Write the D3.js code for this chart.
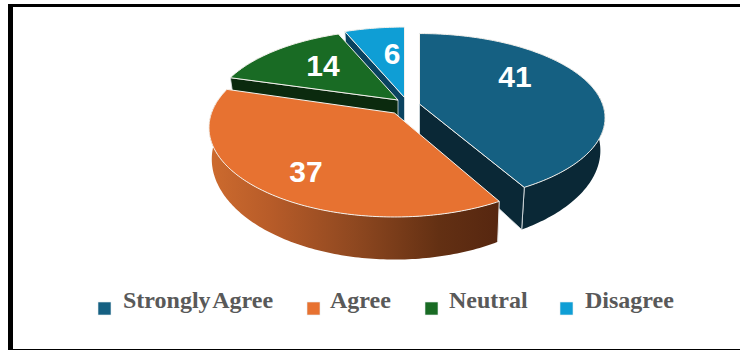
<!DOCTYPE html>
<html><head><meta charset="utf-8">
<script src="https://cdn.jsdelivr.net/npm/d3@7"></script>
<style>html,body{margin:0;padding:0;background:#fff}svg{display:block}</style>
</head><body><div id="c"></div>
<script>
const categories = ["Strongly Agree", "Agree", "Neutral", "Disagree"];
const values = [41, 37, 14, 6];
const topColors = ["#156082", "#E77231", "#196B24", "#0F9ED5"];
const wallColors = ["#0A2836", "#7a3a18", "#0B2A0E", "#0A4360"];

const W = 740, H = 351;
// layout
const centre = [402, 105];
const explode = [[17.5, -1], [-7.5, 8], [-4, -5], [2.5, -7.5]];
const sliceScaleY = [1, 1.06, 1, 1];
const sliceDepth = [1, 0.96, 1, 1];
const sliceBottomX = [0.975, 0.985, 0.975, 0.975];
const labelShift = [[95.5, -28], [-88.5, 58], [-75, -35], [-12.5, -44]];
const legendSwatch = [98, 307, 425, 560];
const legendText = [123, 330, 449, 585];
const RX = 183, RY = 82, PERSP = 0.164, DEPTH = 31;
const drawOrder = [3, 2, 0, 1];

const svg = d3.select("#c").append("svg").attr("width", W).attr("height", H);
svg.append("rect").attr("width", W).attr("height", H).attr("fill", "#fff");

// frame
svg.append("rect").attr("x", 8).attr("y", 4).attr("width", W - 8 + 20).attr("height", 346).attr("fill", "#000");
svg.append("rect").attr("x", 13).attr("y", 7).attr("width", W - 13 + 20).attr("height", 342).attr("fill", "#fff");

const defs = svg.append("defs");
const grad = defs.append("linearGradient").attr("id", "orangeWall")
  .attr("gradientUnits", "userSpaceOnUse").attr("x1", 212).attr("x2", 496).attr("y1", 0).attr("y2", 0);
[[0, "#CC6A2E"], [0.2, "#B85C29"], [0.5, "#8F4820"], [0.8, "#633013"], [1, "#572710"]]
  .forEach(s => grad.append("stop").attr("offset", s[0]).attr("stop-color", s[1]));

const pie = d3.pie().sort(null).startAngle(0).endAngle(2 * Math.PI);
const arcs = pie(values);

const xScale = d3.scaleLinear().domain([-1, 1]).range([-RX, RX]);
const yScale = d3.scaleLinear().domain([-1, 1]).range([RY, -RY]);

function apex(i) { return [centre[0] + explode[i][0], centre[1] + explode[i][1]]; }
function proj(i, t, r = 1) {
  const X = r * Math.sin(t), Y = r * Math.cos(t), w = 1 + PERSP * Y, a = apex(i);
  return [a[0] + xScale(X) / w, a[1] + sliceScaleY[i] * yScale(Y) / w];
}
function projBottom(i, t, r = 1) {
  const X = r * Math.sin(t), Y = r * Math.cos(t), w = 1 + PERSP * Y, a = apex(i);
  return [a[0] + sliceBottomX[i] * xScale(X) / w, a[1] + sliceScaleY[i] * yScale(Y) / w + sliceDepth[i] * DEPTH / (w * w)];
}
const line = d3.line();
function samples(a0, a1) {
  const n = Math.max(2, Math.ceil((a1 - a0) * 60));
  return d3.range(n + 1).map(k => a0 + (a1 - a0) * k / n);
}

drawOrder.forEach(i => {
  const d = arcs[i], g = svg.append("g");
  const fill = i === 1 ? "url(#orangeWall)" : wallColors[i];
  // outer curved wall, front half only
  const lo = Math.max(d.startAngle, Math.PI * 0.45), hi = Math.min(d.endAngle, Math.PI * 1.55);
  if (hi > lo) {
    const ts = samples(lo, hi);
    const pts = ts.map(t => proj(i, t)).concat(ts.slice().reverse().map(t => projBottom(i, t)));
    g.append("path").attr("d", line(pts) + "Z").attr("fill", fill);
    if (d.startAngle >= lo) {
      g.append("path").attr("d", line([proj(i, d.startAngle), projBottom(i, d.startAngle)]))
        .attr("stroke", "#e8e8e8").attr("stroke-width", 1).attr("fill", "none");
    }
    if (i === 0) {
      const e = d.endAngle;
      g.append("path").attr("d", line([proj(i, e), projBottom(i, e)]))
        .attr("stroke", "#e8e8e8").attr("stroke-width", 1).attr("fill", "none");
    }
  }
  // radial cut walls facing the viewer
  const cut = i === 1 ? null : (i === 0 ? d.endAngle : d.startAngle);
  if (cut !== null) {
    const a = apex(i), b = projBottom(i, cut, 0);
    g.append("path").attr("d", line([a, proj(i, cut), projBottom(i, cut), b]) + "Z")
      .attr("fill", wallColors[i]).attr("stroke", "#dfe6e8").attr("stroke-width", 0.8);
  }
  // top surface
  const top = [apex(i)].concat(samples(d.startAngle, d.endAngle).map(t => proj(i, t)));
  g.append("path").attr("d", line(top) + "Z").attr("fill", topColors[i])
    .attr("stroke", "#f4f1ec").attr("stroke-width", 1).attr("stroke-linejoin", "round");
});

// value labels
arcs.forEach((d, i) => {
  const a = apex(i);
  svg.append("text").attr("x", a[0] + labelShift[i][0]).attr("y", a[1] + labelShift[i][1])
    .attr("text-anchor", "middle").attr("dominant-baseline", "central")
    .attr("font-family", "Liberation Sans, Arial, sans-serif").attr("font-weight", 700)
    .attr("font-size", 30).attr("fill", "#fff").text(values[i]);
});

// legend
categories.forEach((c, i) => {
  svg.append("rect").attr("x", legendSwatch[i]).attr("y", 302).attr("width", 13).attr("height", 13)
    .attr("fill", topColors[i]).attr("stroke", "#e6eef2").attr("stroke-width", 0.6);
  svg.append("text").attr("x", legendText[i]).attr("y", 308)
    .attr("font-family", "Liberation Serif, serif").attr("font-weight", 700)
    .attr("font-size", 24).attr("word-spacing", -3).attr("fill", "#595959").text(c);
});
</script></body></html>
